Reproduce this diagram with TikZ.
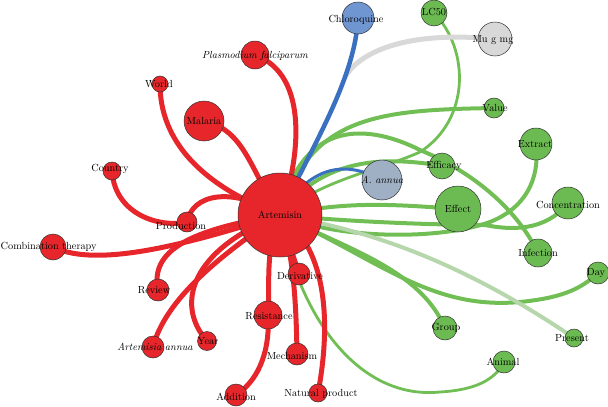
\documentclass[tikz,border=0pt]{standalone}
\pgfdeclarelayer{edges}
\pgfsetlayers{edges,main}
\definecolor{nred}{RGB}{230,38,42}
\definecolor{ngreen}{RGB}{108,186,82}
\definecolor{egreen}{RGB}{112,190,84}
\definecolor{eblue}{RGB}{58,112,192}
\definecolor{nblue}{RGB}{112,150,210}
\definecolor{nslate}{RGB}{160,176,196}
\definecolor{ngrey}{RGB}{216,216,216}
\definecolor{egrey}{RGB}{216,216,216}
\definecolor{elight}{RGB}{182,214,172}
\definecolor{bord}{RGB}{50,50,50}
\tikzset{
  vn/.style={circle,draw=bord,line width=0.5pt,inner sep=0pt,minimum size=2*#1},
  rn/.style={vn=#1,fill=nred},
  gn/.style={vn=#1,fill=ngreen},
  lbl/.style={font=\fontsize{10.3}{12}\selectfont,inner sep=0pt},
  ilbl/.style={font=\fontsize{10.3}{12}\selectfont\itshape,inner sep=0pt},
  redge/.style={draw=nred,line width=5pt},
  gedge/.style={draw=egreen,line width=4pt},
  gthin/.style={draw=egreen,line width=2.8pt},
  bedge/.style={draw=eblue,line width=4.5pt},
  bthin/.style={draw=eblue,line width=3pt},
  greyedge/.style={draw=egrey,line width=5pt},
  lightedge/.style={draw=elight,line width=4pt}
}
\begin{document}
\begin{tikzpicture}[x=1pt,y=-1pt]
\useasboundingbox (0,0) rectangle (608,407);
% nodes
\node[rn=42] (art) at (280,215) {};
\node[vn=16,fill=nblue] (chl) at (358,18) {};
\node[gn=13] (lc) at (434,13) {};
\node[vn=17,fill=ngrey] (mug) at (495,39) {};
\node[gn=10] (val) at (494,108) {};
\node[gn=16] (ext) at (536,144) {};
\node[gn=13] (efc) at (442,166) {};
\node[vn=20,fill=nslate] (ann) at (382,180) {};
\node[gn=23] (eff) at (458,209) {};
\node[gn=16] (con) at (568,203) {};
\node[gn=14] (inf) at (538,253) {};
\node[gn=11] (day) at (598,273) {};
\node[gn=12] (grp) at (445,328) {};
\node[gn=9] (pre) at (574,338) {};
\node[gn=11] (ani) at (504,362) {};
\node[rn=9] (nat) at (318,393) {};
\node[rn=11] (der) at (299,274) {};
\node[rn=14] (res) at (268,315) {};
\node[rn=11] (mec) at (297,354) {};
\node[rn=11] (add) at (236,395) {};
\node[rn=9.5] (yr) at (207,341) {};
\node[rn=11] (aan) at (153,347) {};
\node[rn=11] (rev) at (158,290) {};
\node[rn=13] (ct) at (53,247) {};
\node[rn=10] (prod) at (187,222) {};
\node[rn=9] (cty) at (112,171) {};
\node[rn=8] (wld) at (160,84) {};
\node[rn=20] (mal) at (204,121) {};
\node[rn=14] (pf) at (255,55) {};
% labels
\node[lbl] (t-art) at (280,215) {Artemisin};
\node[lbl] (t-chl) at (356,20) {Chloroquine};
\node[lbl] (t-lc) at (434,12) {LC50};
\node[lbl] (t-mug) at (493,40) {Mu g mg};
\node[lbl] (t-val) at (495,108) {Value};
\node[lbl] (t-ext) at (535,144) {Extract};
\node[lbl] (t-efc) at (444,166) {Efficacy};
\node[ilbl] (t-ann) at (382,180) {A. annua};
\node[lbl] (t-eff) at (458,209) {Effect};
\node[lbl] (t-con) at (568,205) {Concentration};
\node[lbl] (t-inf) at (538,253) {Infection};
\node[lbl] (t-day) at (596,273) {Day};
\node[lbl] (t-grp) at (446,328) {Group};
\node[lbl] (t-pre) at (572,338) {Present};
\node[lbl] (t-ani) at (503,362) {Animal};
\node[lbl] (t-nat) at (321,394) {Natural product};
\node[lbl] (t-der) at (300,276) {Derivative};
\node[lbl] (t-res) at (269,316) {Resistance};
\node[lbl] (t-mec) at (292,356) {Mechanism};
\node[lbl] (t-add) at (236,397) {Addition};
\node[lbl] (t-yr) at (208,341) {Year};
\node[ilbl] (t-aan) at (155,347) {Artemisia annua};
\node[lbl] (t-rev) at (154,290) {Review};
\node[lbl,anchor=west] (t-ct) at (0.5,247) {Combination therapy};
\node[lbl] (t-prod) at (181,226) {Production};
\node[lbl] (t-cty) at (110,169) {Country};
\node[lbl] (t-wld) at (159,84) {World};
\node[lbl] (t-mal) at (204,121) {Malaria};
\node[ilbl] (t-pf) at (255,56) {Plasmodium falciparum};
% edges
\begin{pgfonlayer}{edges}
% green
\path[gthin] (lc.center) .. controls (470,50) and (470,120) .. (420,152) .. controls (380,170) and (320,180) .. (art.center);
\path[gedge] (val.center) .. controls (380,110) and (310,115) .. (art.center);
\path[gedge] (art.center) .. controls (300,125) and (360,120) .. (420,150) .. controls (480,175) and (520,215) .. (inf.center);
\path[gedge] (art.center) .. controls (320,160) and (380,155) .. (efc.center);
\path[gedge] (art.center) .. controls (350,200) and (400,205) .. (eff.center);
\path[gedge] (art.center) .. controls (340,240) and (440,240) .. (490,222) .. controls (525,208) and (540,180) .. (ext.center);
\path[gedge] (art.center) .. controls (350,222) and (440,225) .. (485,225) .. controls (510,230) and (545,232) .. (con.center);
\path[gedge] (art.center) .. controls (380,260) and (430,310) .. (520,302) .. controls (560,298) and (580,290) .. (day.center);
\path[gedge] (art.center) .. controls (350,250) and (420,270) .. (grp.center);
\path[gthin] (art.center) .. controls (300,320) and (360,400) .. (440,392) .. controls (475,390) and (495,380) .. (ani.center);
\path[lightedge] (art.center) .. controls (330,225) and (430,240) .. (pre.center);
% grey and blue
\path (art.center) .. controls (310,150) and (355,80) .. (chl.center) coordinate[pos=0.69] (gj);
\path[greyedge] (mug.center) .. controls (400,30) and (357,55) .. (gj);
% red
\path[redge] (pf.center) .. controls (310,75) and (300,160) .. (art.center);
\path[redge] (wld.center) .. controls (160,140) and (200,185) .. (art.center);
\path[redge] (mal.center) .. controls (245,130) and (250,170) .. (art.center);
\path[redge] (cty.center) .. controls (115,215) and (160,228) .. (prod.center);
\path[redge] (prod.center) .. controls (192,195) and (230,185) .. (art.center);
\path[redge] (ct.center) .. controls (100,270) and (200,240) .. (art.center);
\path[redge] (rev.center) .. controls (150,250) and (190,230) .. (art.center);
\path[redge] (aan.center) .. controls (165,300) and (220,255) .. (art.center);
\path[redge] (yr.center) .. controls (175,305) and (190,250) .. (art.center);
\path[redge] (res.center) .. controls (270,280) and (265,250) .. (art.center);
\path[redge] (add.center) .. controls (262,378) and (270,345) .. (res.center);
\path[redge] (mec.center) .. controls (296,290) and (292,250) .. (art.center);
\path[redge] (der.center) -- (art.center);
\path[redge] (nat.center) .. controls (330,330) and (330,250) .. (art.center);
% blue
\path[bedge] (art.center) .. controls (310,150) and (355,80) .. (chl.center);
\path[bthin] (art.center) .. controls (310,165) and (345,160) .. (ann.center);
\end{pgfonlayer}
\end{tikzpicture}
\end{document}
